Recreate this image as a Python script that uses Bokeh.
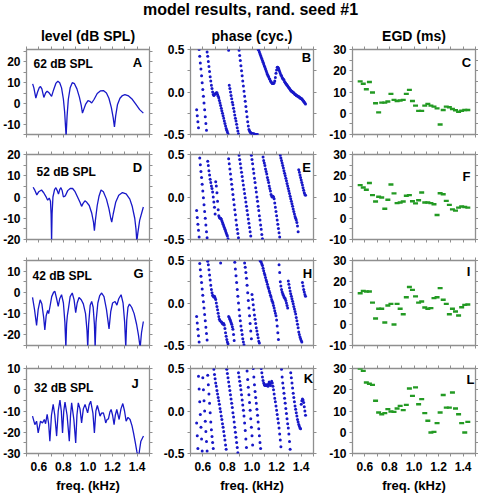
from bokeh.plotting import figure
from bokeh.models import (Range1d, LinearAxis, FixedTicker, PrintfTickFormatter,
                          Title, Label)
from bokeh.layouts import column, row
from bokeh.embed import file_html
from bokeh.resources import INLINE

FONT = "Liberation Sans"
GRAY = "#8f8f8f"
BLUE = "#1818c8"
GREEN = "#239a23"

TITLE = "model results, rand. seed #1"
COL_TITLES = ["level (dB SPL)", "phase (cyc.)", "EGD (ms)"]
STIM_LEVELS = ["62 dB SPL", "52 dB SPL", "42 dB SPL", "32 dB SPL"]
LETTERS = [["A", "B", "C"], ["D", "E", "F"], ["G", "H", "I"], ["J", "K", "L"]]
X_LABEL = "freq. (kHz)"
X_TICKS = [0.6, 0.8, 1.0, 1.2, 1.4]
X_MINOR = [0.5, 0.7, 0.9, 1.1, 1.3, 1.5]
LEVEL_RANGES = [(-15, 26), (-20, 20), (-25, 15), (-30, 10)]
LEVEL_TICKS = [[-10, 0, 10, 20], [-20, -10, 0, 10, 20], [-20, -10, 0, 10], [-30, -20, -10, 0, 10]]
PHASE_RANGE = (-0.5, 0.5)
PHASE_TICKS = [-0.5, 0.0, 0.5]
PHASE_MINOR = [-0.25, 0.25]
EGD_RANGE = (-10, 30)
EGD_TICKS = [-10, 0, 10, 20, 30]

# ---------------- level (dB SPL) ----------------
A_F = [0.55, 0.56, 0.576, 0.59, 0.605, 0.614, 0.625, 0.641, 0.655, 0.668, 0.685, 0.704, 0.72, 0.74, 0.755,
       0.77, 0.785, 0.80, 0.81, 0.818, 0.822, 0.83, 0.84, 0.855, 0.872, 0.89, 0.91, 0.93, 0.945, 0.955,
       0.965, 0.98, 1.0, 1.015, 1.03, 1.05, 1.075, 1.1, 1.125, 1.15, 1.17, 1.19, 1.205, 1.215, 1.225,
       1.24, 1.26, 1.28, 1.30, 1.33, 1.36, 1.39, 1.42, 1.45]
A_V = [9.4, 7.5, 2.6, 5.5, 7.8, 8.1, 7, 2.9, 5, 5.9, 5, 3.4, 6.5, 9.8, 10.7,
       10, 7.5, 2, -4, -12, -16, -6, 2, 7.5, 10, 9.5, 7, 3, -1, -4.7,
       -3, -0.5, 1.3, 1, 0.2, 2, 4.8, 6, 6.2, 5, 2.5, -2, -7, -11.4, -6,
       -0.5, 2.5, 3.8, 4.2, 3.6, 2, -0.5, -3, -4.7]

D_F = [0.554, 0.565, 0.584, 0.60, 0.622, 0.64, 0.658, 0.672, 0.685, 0.695, 0.700, 0.704, 0.708, 0.715, 0.728,
       0.739, 0.75, 0.76, 0.77, 0.78, 0.79, 0.80, 0.815, 0.835, 0.855, 0.875, 0.895, 0.915, 0.935, 0.948,
       0.96, 0.975, 0.99, 1.01, 1.03, 1.045, 1.052, 1.06, 1.075, 1.09, 1.106, 1.125, 1.15, 1.17, 1.185,
       1.193, 1.205, 1.225, 1.25, 1.28, 1.31, 1.34, 1.36, 1.38, 1.39, 1.397, 1.405, 1.42, 1.45]
D_V = [4.6, 3.5, 1, 2.5, 3.3, 2, 0.2, -1.5, -0.5, -2, -8, -21, -8, 0, 3.5,
       4.4, 3, 1.4, 3.5, 4.4, 3, 0, 0.5, 3, 4, 4, 2.5, 0, -2.5, -4.4,
       -3, -1.8, -2.5, -4, -7.5, -12, -15.8, -11, -4, 0.5, 3.3, 2.5, -1, -5.5, -10,
       -11.8, -8, -2.5, 0.8, 2.1, 1.5, -1, -4.5, -10, -15, -21, -17, -11, -4.7]

G_F = [0.549, 0.565, 0.582, 0.595, 0.611, 0.625, 0.64, 0.649, 0.66, 0.672, 0.68, 0.69, 0.705, 0.72, 0.731,
       0.745, 0.758, 0.77, 0.785, 0.80, 0.812, 0.82, 0.826, 0.832, 0.84, 0.855, 0.872, 0.887, 0.90, 0.912,
       0.927, 0.945, 0.962, 0.98, 0.992, 0.998, 1.005, 1.018, 1.03, 1.042, 1.052, 1.058, 1.065, 1.08, 1.095,
       1.111, 1.13, 1.15, 1.171, 1.185, 1.20, 1.22, 1.235, 1.25, 1.269, 1.285, 1.298, 1.307, 1.315, 1.325,
       1.337, 1.355, 1.375, 1.395, 1.41, 1.424, 1.435, 1.45]
G_V = [-2.4, -8, -15.6, -8, -3.5, -5.5, -12, -17.7, -11, -8.5, -10, -7, -2, 0, 0.5,
       -3, -6.6, -3, -1.1, -5, -14, -26, -15, -11, -8, -2, -0.3, -3.5, -9.5, -5,
       -2.4, -3.5, -5.4, -10, -18, -26, -15, -6, -4.3, -7, -15, -26, -14, -5, -1.5,
       -0.3, -2, -8, -17.2, -9, -5, -4.3, -6, -3, -1.1, -5, -14, -26, -13, -7,
       -5.5, -7, -10, -15, -20, -26, -19, -13.7]

J_F = [0.549, 0.568, 0.582, 0.595, 0.614, 0.63, 0.645, 0.655, 0.668, 0.68, 0.69, 0.703, 0.717, 0.73, 0.745,
       0.758, 0.772, 0.783, 0.793, 0.803, 0.813, 0.83, 0.848, 0.858, 0.867, 0.885, 0.90, 0.91, 0.921, 0.935,
       0.948, 0.962, 0.976, 0.987, 0.997, 1.01, 1.022, 1.04, 1.052, 1.064, 1.076, 1.088, 1.098, 1.11, 1.125,
       1.135, 1.144, 1.155, 1.166, 1.178, 1.188, 1.2, 1.212, 1.222, 1.234, 1.245, 1.253, 1.268, 1.283, 1.297,
       1.31, 1.325, 1.342, 1.358, 1.37, 1.385, 1.397, 1.405, 1.413, 1.42, 1.43, 1.451]
J_V = [-12.4, -16.4, -14.8, -20.3, -14.8, -15.6, -14, -16, -11.6, -16, -24.2, -12, -6.9, -12, -21.8,
       -10, -4.9, -10, -20.3, -10, -5.8, -12, -24.2, -12, -6.2, -14, -25, -12, -6.2, -9,
       -15.6, -9, -6.9, -9, -10.9, -7, -5.4, -11, -20.3, -10, -7.4, -10, -12.4, -11, -10.9,
       -13, -15.6, -14, -13.7, -10.5, -9.3, -12, -16.4, -12, -9.3, -12, -14, -9, -6.5, -10,
       -14.8, -13, -14, -17, -20.3, -25, -29, -31, -31, -28, -24.2, -21.8]

# ---------------- phase (cycles), sampled every 5 Hz ----------------
PH_F = [
    0.550, 0.555, 0.560, 0.565, 0.570, 0.575, 0.580, 0.585, 0.590, 0.595,
    0.600, 0.605, 0.610, 0.615, 0.620, 0.625, 0.630, 0.635, 0.640, 0.645,
    0.650, 0.655, 0.660, 0.665, 0.670, 0.675, 0.680, 0.685, 0.690, 0.695,
    0.700, 0.705, 0.710, 0.715, 0.720, 0.725, 0.730, 0.735, 0.740, 0.745,
    0.750, 0.755, 0.760, 0.765, 0.770, 0.775, 0.780, 0.785, 0.790, 0.795,
    0.800, 0.805, 0.810, 0.815, 0.820, 0.825, 0.830, 0.835, 0.840, 0.845,
    0.850, 0.855, 0.860, 0.865, 0.870, 0.875, 0.880, 0.885, 0.890, 0.895,
    0.900, 0.905, 0.910, 0.915, 0.920, 0.925, 0.930, 0.935, 0.940, 0.945,
    0.950, 0.955, 0.960, 0.965, 0.970, 0.975, 0.980, 0.985, 0.990, 0.995,
    1.000, 1.005, 1.010, 1.015, 1.020, 1.025, 1.030, 1.035, 1.040, 1.045,
    1.050, 1.055, 1.060, 1.065, 1.070, 1.075, 1.080, 1.085, 1.090, 1.095,
    1.100, 1.105, 1.110, 1.115, 1.120, 1.125, 1.130, 1.135, 1.140, 1.145,
    1.150, 1.155, 1.160, 1.165, 1.170, 1.175, 1.180, 1.185, 1.190, 1.195,
    1.200, 1.205, 1.210, 1.215, 1.220, 1.225, 1.230, 1.235, 1.240, 1.245,
    1.250, 1.255, 1.260, 1.265, 1.270, 1.275, 1.280, 1.285, 1.290, 1.295,
    1.300, 1.305, 1.310, 1.315, 1.320, 1.325, 1.330, 1.335, 1.340, 1.345,
    1.350, 1.355, 1.360, 1.365, 1.370, 1.375, 1.380, 1.385, 1.390, 1.395,
    1.400, 1.405, 1.410, 1.415, 1.420, 1.425, 1.430, 1.435]

B_PH = [
    -0.21, -0.28, -0.35, -0.42, 0.50, 0.42, 0.34, 0.27, 0.19, 0.11,
    0.03, -0.05, -0.13, -0.21, -0.29, -0.37, -0.45, 0.47, 0.42, 0.36,
    0.30, 0.24, 0.18, 0.13, 0.08, 0.04, 0.00, -0.03, -0.04, -0.03,
    -0.02, -0.02, -0.01, -0.01, -0.03, -0.05, -0.07, -0.10, -0.13, -0.16,
    -0.19, -0.22, -0.25, -0.28, -0.31, -0.34, -0.37, -0.40, -0.43, -0.45,
    -0.47, -0.49, 0.49, 0.08, 0.04, 0.00, -0.04, -0.08, -0.12, -0.15,
    -0.19, -0.23, -0.27, -0.31, -0.34, -0.38, -0.42, -0.46, -0.49, 0.49,
    0.43, 0.37, 0.31, 0.25, 0.19, 0.13, 0.07, 0.01, -0.05, -0.11,
    -0.17, -0.23, -0.29, -0.35, -0.40, -0.44, -0.46, -0.47, -0.48, -0.485,
    -0.49, -0.49, -0.49, -0.495, -0.495, -0.50, -0.50, -0.50, -0.50, -0.50,
    0.50, 0.49, 0.47, 0.45, 0.43, 0.41, 0.39, 0.37, 0.35, 0.33,
    0.31, 0.29, 0.27, 0.25, 0.23, 0.21, 0.19, 0.18, 0.16, 0.15,
    0.13, 0.12, 0.11, 0.10, 0.10, 0.10, 0.11, 0.13, 0.17, 0.22,
    0.26, 0.29, 0.29, 0.28, 0.26, 0.24, 0.22, 0.20, 0.19, 0.17,
    0.16, 0.15, 0.14, 0.12, 0.11, 0.10, 0.09, 0.08, 0.07, 0.06,
    0.05, 0.04, 0.03, 0.02, 0.01, 0.01, 0.00, -0.01, -0.01, -0.02,
    -0.03, -0.03, -0.04, -0.04, -0.05, -0.05, -0.06, -0.06, -0.07, -0.07,
    -0.08, -0.08, -0.09, -0.10, -0.11, -0.12, -0.13, -0.14]

E_PH = [
    -0.16, -0.24, -0.32, -0.39, -0.47, 0.46, 0.38, 0.30, 0.23, 0.15,
    0.07, -0.01, -0.09, -0.17, -0.25, -0.33, -0.41, -0.48, 0.42, 0.37,
    0.31, 0.26, 0.21, 0.17, 0.13, 0.10, 0.06, 0.00, -0.06, -0.12,
    -0.20, 0.18, 0.13, 0.05, -0.05, -0.15, -0.22, -0.24, -0.25, -0.25,
    -0.26, -0.28, -0.30, -0.32, -0.34, -0.36, -0.38, -0.40, -0.42, -0.44,
    -0.46, -0.49, 0.45, 0.39, 0.33, 0.27, 0.21, 0.15, 0.09, 0.03,
    -0.03, -0.09, -0.15, -0.21, -0.27, -0.33, -0.38, -0.43, -0.48, 0.49,
    0.44, 0.39, 0.34, 0.29, 0.24, 0.19, 0.14, 0.09, 0.04, -0.01,
    -0.06, -0.11, -0.16, -0.21, -0.26, -0.31, -0.36, -0.41, -0.46, 0.49,
    0.44, 0.39, 0.33, 0.28, 0.22, 0.17, 0.11, 0.06, 0.00, -0.05,
    -0.11, -0.16, -0.22, -0.27, -0.33, -0.38, -0.44, -0.49, 0.47, 0.43,
    0.40, 0.37, 0.33, 0.30, 0.27, 0.23, 0.20, 0.17, 0.13, 0.10,
    0.07, 0.03, 0.01, 0.00, 0.01, 0.00, -0.02, -0.07, -0.12, -0.17,
    -0.22, -0.27, -0.32, -0.37, -0.42, -0.47, 0.49, 0.46, 0.43, 0.40,
    0.37, 0.34, 0.31, 0.28, 0.25, 0.22, 0.19, 0.16, 0.13, 0.10,
    0.07, 0.04, 0.01, -0.02, -0.05, -0.08, -0.11, -0.14, -0.17, -0.20,
    -0.23, -0.25, -0.27, -0.30, -0.34, -0.41, 0.32, 0.29, 0.26, 0.23,
    0.20, 0.17, 0.14, 0.11, 0.08, 0.05, 0.03, 0.02]

H_PH = [
    -0.16, -0.235, -0.31, -0.385, -0.46, 0.465, 0.39, 0.315, 0.24, 0.165,
    0.09, 0.015, -0.06, -0.135, -0.21, -0.285, -0.36, -0.435, 0.49, 0.45,
    0.39, 0.33, 0.27, 0.21, 0.16, 0.12, 0.09, 0.08, 0.07, 0.08,
    0.06, 0.04, 0.00, -0.04, -0.08, -0.12, -0.16, -0.19, -0.21, 0.47,
    -0.22, -0.23, -0.24, -0.25, -0.24, -0.26, -0.30, -0.35, -0.39, -0.43,
    -0.46, -0.48, -0.16, -0.17, -0.19, -0.21, -0.23, -0.25, -0.28, -0.31,
    -0.37, -0.44, 0.48, 0.40, 0.32, 0.24, 0.16, 0.08, 0.00, -0.08,
    -0.15, -0.21, -0.27, -0.32, -0.37, -0.42, -0.46, -0.49, 0.47, 0.42,
    0.36, 0.29, 0.21, 0.12, 0.03, -0.06, -0.15, -0.24, -0.33, -0.42,
    0.10, 0.04, -0.02, -0.08, -0.14, -0.19, -0.24, -0.29, -0.33, -0.37,
    -0.41, -0.45, -0.47, 0.50, 0.49, 0.48, 0.46, 0.44, 0.41, 0.38,
    0.35, 0.33, 0.30, 0.27, 0.25, 0.22, 0.19, 0.17, 0.14, 0.12,
    0.09, 0.07, 0.04, 0.02, 0.00, -0.03, -0.06, -0.09, -0.12, -0.15,
    -0.20, -0.27, -0.35, -0.43, 0.45, 0.36, 0.25, 0.20, 0.16, 0.13,
    0.11, 0.09, 0.07, 0.06, 0.05, 0.03, 0.00, -0.03, -0.06, 0.26,
    0.22, 0.18, 0.14, 0.11, 0.08, 0.05, 0.02, -0.01, -0.04, -0.07,
    -0.10, -0.13, -0.17, -0.21, -0.25, -0.29, -0.34, -0.37, -0.40, -0.42,
    -0.44, -0.46, 0.24, 0.20, 0.16, 0.13, 0.10, 0.08]

K_PH = [
    -0.14, -0.29, -0.44, 0.41, 0.26, 0.11, -0.04, -0.19, -0.33, -0.47,
    0.39, 0.25, 0.12, 0.00, -0.12, -0.24, -0.36, -0.47, 0.42, 0.31,
    0.20, 0.09, -0.02, -0.13, -0.22, -0.30, -0.37, -0.44, 0.49, 0.43,
    0.38, 0.33, 0.29, 0.24, 0.20, 0.16, 0.12, 0.08, 0.03, -0.01,
    -0.06, -0.10, -0.15, -0.19, -0.24, -0.29, -0.34, -0.40, -0.45, 0.49,
    0.44, 0.39, 0.34, 0.29, 0.24, 0.19, 0.14, 0.09, 0.04, -0.02,
    -0.07, -0.13, -0.19, -0.25, -0.31, -0.37, -0.43, -0.49, 0.45, 0.40,
    0.35, 0.30, 0.25, 0.19, 0.13, 0.07, 0.01, -0.06, -0.14, -0.23,
    -0.33, -0.43, 0.47, 0.37, 0.28, 0.19, 0.10, 0.01, -0.09, -0.19,
    -0.29, -0.40, 0.50, 0.40, 0.31, 0.23, 0.16, 0.09, 0.02, -0.05,
    -0.13, -0.21, -0.29, -0.37, -0.44, 0.50, 0.45, 0.40, 0.36, 0.33,
    0.31, 0.30, 0.31, 0.30, 0.31, 0.30, 0.29, 0.32, 0.34, 0.32,
    0.30, 0.33, 0.35, 0.33, 0.29, 0.25, 0.20, 0.15, 0.11, 0.06,
    0.01, -0.04, -0.09, -0.14, -0.20, -0.27, -0.34, -0.42, 0.49, 0.40,
    0.33, 0.27, 0.21, 0.15, 0.09, 0.03, -0.03, -0.09, -0.15, -0.20,
    -0.27, -0.36, -0.45, 0.45, 0.39, 0.33, 0.27, 0.21, 0.16, 0.11,
    0.06, 0.02, -0.02, -0.06, -0.10, -0.13, -0.16, -0.18, -0.20, -0.21,
    0.08, 0.12, 0.14, 0.13, 0.10, 0.05, 0.00, -0.05]

# ---------------- EGD (ms) ----------------
EGD_F = [0.5625, 0.5875, 0.6125, 0.6375, 0.6625, 0.6875, 0.7125, 0.7375, 0.7625, 0.7875,
         0.8125, 0.8375, 0.8625, 0.8875, 0.9125, 0.9375, 0.9625, 0.9875, 1.0125, 1.0375,
         1.0625, 1.0875, 1.1125, 1.1375, 1.1625, 1.1875, 1.2125, 1.2375, 1.2625, 1.2875,
         1.3125, 1.3375, 1.3625, 1.3875, 1.4125, 1.4375]
C_EGD = [15, 13.9, 11.3, 14.7, 9.8, 4.7, 0.4, 5, 5, 5.5,
         9.1, 6.3, 5.8, 6, 6.3, 9.1, 11, 5.8, 3.6, 1.1,
         1.1, 3.6, 4.4, 3.6, 3.1, 2.3, -5.3, 1.5, 3.1, 2.8,
         2, 1.4, 0.7, 1.2, 1.5, 1.5]
F_EGD = [15.6, 14.5, 13.4, 16.6, 10.9, 7.9, 10.1, 9.8, 4.5, 8.7,
         15.9, 11.7, 7.1, 7.4, 7.9, 10.6, 10.9, 8, 7, 8.5,
         12.1, 7.4, 7.4, 7.1, 6.6, 1.5, 11.8, 11.3, 8.2, 6.3,
         4.2, 3.6, 5, 5.5, 5.3, 5.0]
I_EGD = [14.6, 15.7, 15.4, 15.4, 10.2, 2.7, 7.3, 7.3, 0.8, 8.8,
         9.6, -0.1, 9.6, 7.3, 4.7, 12.7, 17.5, 16.2, 13.1, 10.2,
         10.7, 7.9, 7.3, 7.6, 12.3, 12.7, 17, 11.5, 9.6, 4.7,
         7.3, 6, 4.1, 8, 9.1, 9.3]
L_EGD = [30, 28.9, 23.4, 22.8, 22.3, 14.8, 9.3, 8.5, 9, 10.9,
         9.8, 9.6, 11.2, 12.4, 10.4, 12.9, 20.6, 17.1, 21.1, 13.2,
         15.6, 9, 5.4, -0.1, 0.2, 4.3, 9.3, 17.5, 11.6, 11.6,
         18.7, 11.2, 8.5, 4.3, -0.1, 4.9]

LEVEL_DATA = [(A_F, A_V), (D_F, D_V), (G_F, G_V), (J_F, J_V)]
PHASE_DATA = [B_PH, E_PH, H_PH, K_PH]
EGD_DATA = [C_EGD, F_EGD, I_EGD, L_EGD]

# ---------------- layout (page has no margin) ----------------
PAGE_W = 478
TITLE_H = 20
FW, FH = 123, 85
BL = [25, 33, 31]
BR = [8, 8, 4]
BT = [29, 10, 11, 12]
BB = [10, 10, 11, 41]

# in-panel text positions (px from frame left, px from frame top)
STIM_POS = [(7, 14), (10, 17), (6, 15), (7.5, 19)]
LETTER_POS = [[(111, 13), (116, 8), (114, 13)],
              [(111, 13), (116, 13), (114, 22)],
              [(112, 13), (117, 13), (116, 11)],
              [(108.5, 15), (118, 9.5), (118, 11)]]


def style_axis(ax, show_labels, fmt=None, standoff=3):
    ax.axis_line_color = None
    ax.major_tick_line_color = GRAY
    ax.minor_tick_line_color = GRAY
    ax.major_tick_out = 3
    ax.major_tick_in = 0
    ax.minor_tick_out = 3
    ax.minor_tick_in = 0
    if show_labels:
        ax.major_label_text_font = FONT
        ax.major_label_text_font_style = "bold"
        ax.major_label_text_font_size = "12px"
        ax.major_label_text_color = "black"
        ax.major_label_standoff = standoff
        if fmt is not None:
            ax.formatter = fmt
    else:
        ax.major_label_text_color = None
        ax.major_label_text_font_size = "0px"
        ax.major_label_standoff = 0


def add_text(p, text, px, py, align, yr, size="12px"):
    x = 0.5 + px / FW
    y = yr[1] - py / FH * (yr[1] - yr[0])
    p.add_layout(Label(x=x, y=y, text=text, text_align=align, text_baseline="middle",
                       text_font=FONT, text_font_style="bold", text_font_size=size,
                       text_color="black"))


def make_panel(r, c, yr, yticks, yminor, yfmt):
    p = figure(frame_width=FW, frame_height=FH,
               x_range=Range1d(0.5, 1.5), y_range=Range1d(*yr),
               output_backend="svg", toolbar_location=None,
               x_axis_location=None, y_axis_location=None,
               min_border_left=BL[c], min_border_right=BR[c],
               min_border_top=BT[r], min_border_bottom=BB[r])
    p.grid.visible = False
    p.outline_line_color = GRAY
    p.outline_line_width = 1.3
    p.background_fill_color = "white"
    p.border_fill_color = "white"

    xt = FixedTicker(ticks=X_TICKS, minor_ticks=X_MINOR)
    yt = FixedTicker(ticks=yticks, minor_ticks=yminor)

    bottom = LinearAxis(ticker=xt)
    style_axis(bottom, r == 3, PrintfTickFormatter(format="%.1f"), standoff=5)
    if r == 3:
        bottom.axis_label = X_LABEL
        bottom.axis_label_text_font = FONT
        bottom.axis_label_text_font_style = "bold"
        bottom.axis_label_text_font_size = "13px"
        bottom.axis_label_text_color = "black"
        bottom.axis_label_standoff = 4
    p.add_layout(bottom, "below")

    left = LinearAxis(ticker=yt)
    style_axis(left, True, yfmt)
    p.add_layout(left, "left")

    top = LinearAxis(ticker=xt)
    style_axis(top, False)
    p.add_layout(top, "above")

    right = LinearAxis(ticker=yt)
    style_axis(right, False)
    p.add_layout(right, "right")

    if r == 0:
        p.add_layout(Title(text=COL_TITLES[c], align="center", text_font=FONT,
                           text_font_style="bold", text_font_size="14px",
                           text_color="black", standoff=6), "above")
    return p


# main title strip
pt = figure(width=PAGE_W, height=TITLE_H, x_range=Range1d(0, PAGE_W), y_range=Range1d(0, TITLE_H),
            output_backend="svg", toolbar_location=None,
            x_axis_location=None, y_axis_location=None, min_border=0)
pt.grid.visible = False
pt.outline_line_color = None
pt.add_layout(Label(x=250, y=11, text=TITLE, text_align="center", text_baseline="middle",
                    text_font=FONT, text_font_style="bold", text_font_size="16px",
                    text_color="black"))

rows = [pt]
for r in range(4):
    # level
    lo, hi = LEVEL_RANGES[r]
    minor = [v for v in range(lo, hi + 1, 5) if v % 10 != 0]
    pl = make_panel(r, 0, LEVEL_RANGES[r], LEVEL_TICKS[r], minor, PrintfTickFormatter(format="%d"))
    fx, fy = LEVEL_DATA[r]
    pl.line(fx, fy, line_color=BLUE, line_width=1.3)
    add_text(pl, STIM_LEVELS[r], STIM_POS[r][0], STIM_POS[r][1], "left", LEVEL_RANGES[r])
    add_text(pl, LETTERS[r][0], LETTER_POS[r][0][0], LETTER_POS[r][0][1], "center", LEVEL_RANGES[r], "13px")

    # phase
    pp = make_panel(r, 1, PHASE_RANGE, PHASE_TICKS, PHASE_MINOR, PrintfTickFormatter(format="%.1f"))
    ph = PHASE_DATA[r]
    n = min(len(PH_F), len(ph))
    pp.scatter(PH_F[:n], ph[:n], marker="circle", size=3.0, fill_color=BLUE, line_color=None)
    add_text(pp, LETTERS[r][1], LETTER_POS[r][1][0], LETTER_POS[r][1][1], "center", PHASE_RANGE, "13px")

    # EGD
    pe = make_panel(r, 2, EGD_RANGE, EGD_TICKS, [-5, 5, 15, 25], PrintfTickFormatter(format="%d"))
    eg = EGD_DATA[r]
    n = min(len(EGD_F), len(eg))
    pe.scatter(EGD_F[:n], eg[:n], marker="dash", size=5, line_color=GREEN, line_width=2.4)
    add_text(pe, LETTERS[r][2], LETTER_POS[r][2][0], LETTER_POS[r][2][1], "center", EGD_RANGE, "13px")

    rows.append(row(pl, pp, pe))

layout = column(*rows)
open("out.html", "w").write(file_html(layout, INLINE))
